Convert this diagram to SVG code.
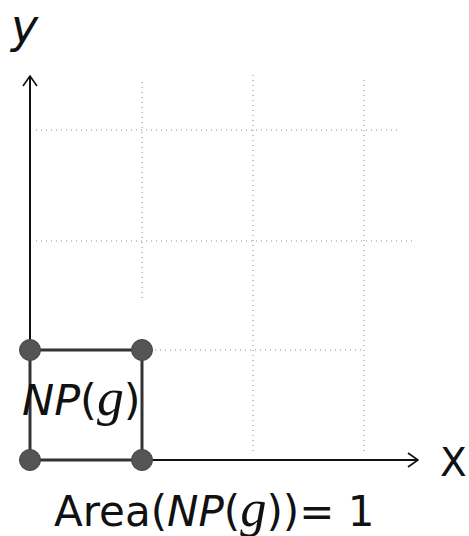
<svg xmlns="http://www.w3.org/2000/svg" width="469" height="536" viewBox="0 0 469 536">
<style>
.grid{stroke:#888;stroke-width:1;stroke-dasharray:1 4;fill:none}
.axis{stroke:#111;stroke-width:2;fill:none}
.edge{stroke:#333;stroke-width:3;fill:none}
.pt{fill:#555;stroke:#444;stroke-width:1}
.t{font-family:"DejaVu Sans","Liberation Sans",sans-serif;fill:#111}
.i{font-style:italic}
.g{font-family:"Liberation Serif","DejaVu Serif",serif;font-style:italic;font-size:1.25em}
</style>
<defs>
<marker id="arr" viewBox="0 0 12 16" refX="11" refY="8" markerWidth="12" markerHeight="16" markerUnits="userSpaceOnUse" orient="auto">
<path d="M1,1 L11,8 L1,15" fill="none" stroke="#111" stroke-width="1.6"/>
</marker>
</defs>
<rect width="469" height="536" fill="#fff"/>
<g id="grid">
<line class="grid" x1="36" y1="130" x2="400" y2="130"/>
<line class="grid" x1="36" y1="241" x2="415" y2="241"/>
<line class="grid" x1="150" y1="350" x2="365" y2="350"/>
<line class="grid" x1="142" y1="82" x2="142" y2="300"/>
<line class="grid" x1="253" y1="75" x2="253" y2="455"/>
<line class="grid" x1="364" y1="80" x2="364" y2="455"/>
</g>
<g id="connectors">
<line class="axis" x1="30" y1="460" x2="30" y2="76" marker-end="url(#arr)"/>
<line class="axis" x1="30" y1="460" x2="418" y2="460" marker-end="url(#arr)"/>
<line class="edge" x1="30" y1="350" x2="142" y2="350"/>
<line class="edge" x1="30" y1="460" x2="142" y2="460"/>
<line class="edge" x1="30" y1="350" x2="30" y2="460"/>
<line class="edge" x1="142" y1="350" x2="142" y2="460"/>
</g>
<g id="p00"><circle class="pt" cx="30" cy="460" r="10.5"/></g>
<g id="p10"><circle class="pt" cx="142" cy="460" r="10.5"/></g>
<g id="p01"><circle class="pt" cx="30" cy="350" r="10.5"/></g>
<g id="p11"><circle class="pt" cx="142" cy="350" r="10.5"/></g>
<g id="labels">
<text class="t i" x="11" y="42" font-size="46">y</text>
<text class="t" x="440" y="476" font-size="39">X</text>
<text class="t" x="22" y="415" font-size="43"><tspan class="i">NP</tspan>(<tspan class="g">g</tspan>)</text>
<text class="t" x="54" y="526" font-size="42">Area(<tspan class="i">NP</tspan>(<tspan class="g">g</tspan>))= 1</text>
</g>
</svg>
